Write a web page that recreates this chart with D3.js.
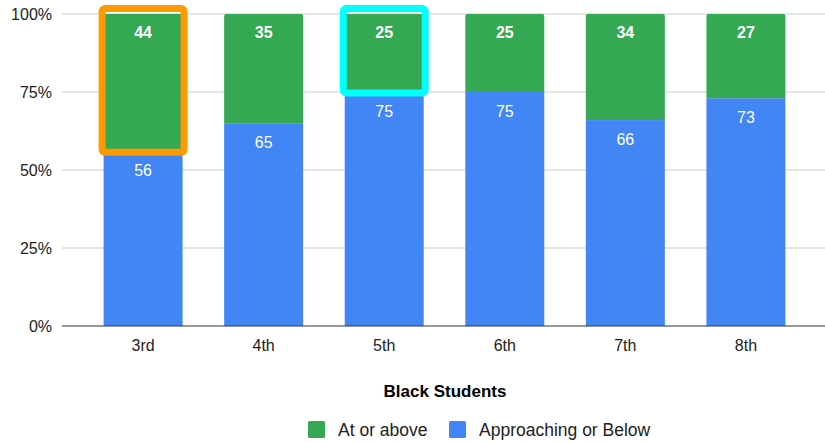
<!DOCTYPE html>
<html><head><meta charset="utf-8">
<script src="https://cdn.jsdelivr.net/npm/d3@7"></script>
<style>body{margin:0;background:#fff}svg{display:block;font-family:"Liberation Sans",Arial,sans-serif}</style>
</head><body>
<svg id="c" width="825" height="443"></svg>
<script>
const categories = ["3rd","4th","5th","6th","7th","8th"];
const belowValues = [56,65,75,75,66,73];
const aboveValues = [44,35,25,25,34,27];
const yTicks = [0,25,50,75,100];
const seriesNames = ["At or above","Approaching or Below"];
const colors = {above:"#34a853", below:"#4285f4"};
const highlights = [{cat:"3rd", color:"#ff9900"},{cat:"5th", color:"#00ffff"}];

const svg = d3.select("#c");
const x = d3.scaleBand().domain(categories).range([62,827]).padding(0.345);
const y = d3.scaleLinear().domain([0,100]).range([326,14]);

svg.append("g").selectAll("line").data(yTicks.filter(d=>d>0)).join("line")
  .attr("x1",62).attr("x2",825).attr("y1",d=>y(d)).attr("y2",d=>y(d))
  .attr("stroke","#cccccc").attr("stroke-width",1);

svg.append("g").selectAll("text").data(yTicks).join("text")
  .attr("x",52).attr("y",d=>y(d)).attr("dy","0.35em").attr("text-anchor","end")
  .attr("font-size",16).attr("fill","#222").text(d=>d+"%");

const data = categories.map((c,i)=>({c, below:belowValues[i], above:aboveValues[i]}));

svg.append("g").selectAll("rect").data(data).join("rect")
  .attr("x",d=>x(d.c)).attr("width",x.bandwidth())
  .attr("y",d=>y(d.below)).attr("height",d=>y(0)-y(d.below))
  .attr("fill",colors.below);

svg.append("g").selectAll("path").data(data).join("path")
  .attr("fill",colors.above)
  .attr("d",d=>{
    const x0=x(d.c), w=x.bandwidth(), yt=y(d.below+d.above), yb=y(d.below), r=2;
    return `M${x0},${yb}V${yt+r}Q${x0},${yt} ${x0+r},${yt}H${x0+w-r}Q${x0+w},${yt} ${x0+w},${yt+r}V${yb}Z`;
  });

svg.append("g").selectAll("text").data(data).join("text")
  .attr("x",d=>x(d.c)+x.bandwidth()/2).attr("y",d=>y(d.below+d.above)+18).attr("dy","0.35em")
  .attr("text-anchor","middle").attr("font-size",16).attr("font-weight","bold").attr("fill","#fff")
  .text(d=>d.above);
svg.append("g").selectAll("text").data(data).join("text")
  .attr("x",d=>x(d.c)+x.bandwidth()/2).attr("y",d=>y(d.below)+19).attr("dy","0.35em")
  .attr("text-anchor","middle").attr("font-size",16).attr("fill","#fff")
  .text(d=>d.below);

svg.append("line").attr("x1",62).attr("x2",825).attr("y1",y(0)).attr("y2",y(0))
  .attr("stroke","#333").attr("stroke-width",1.2);

svg.append("g").selectAll("text").data(categories).join("text")
  .attr("x",d=>x(d)+x.bandwidth()/2).attr("y",345).attr("dy","0.35em")
  .attr("text-anchor","middle").attr("font-size",16).attr("fill","#222").text(d=>d);

svg.append("text").attr("x",445).attr("y",391).attr("dy","0.35em").attr("text-anchor","middle")
  .attr("font-size",17).attr("font-weight","bold").attr("fill","#000").text("Black Students");

highlights.forEach(h=>{
  const d = data.find(e=>e.c===h.cat);
  const x0=x(d.c)-1.5, w=x.bandwidth()+3;
  const yt=y(d.below+d.above)-5.5, yb=y(d.below)+1;
  svg.append("rect").attr("x",x0).attr("y",yt).attr("width",w).attr("height",yb-yt)
    .attr("rx",3).attr("fill","none").attr("stroke",h.color).attr("stroke-width",7);
});

const leg = svg.append("g");
const legItems = [{name:seriesNames[0],color:colors.above,x:308},{name:seriesNames[1],color:colors.below,x:449}];
legItems.forEach(it=>{
  leg.append("rect").attr("x",it.x).attr("y",421).attr("width",17).attr("height",17).attr("rx",1.5).attr("fill",it.color);
  leg.append("text").attr("x",it.x+30).attr("y",430).attr("dy","0.35em").attr("font-size",17.5).attr("fill","#222").text(it.name);
});
</script>
</body></html>
